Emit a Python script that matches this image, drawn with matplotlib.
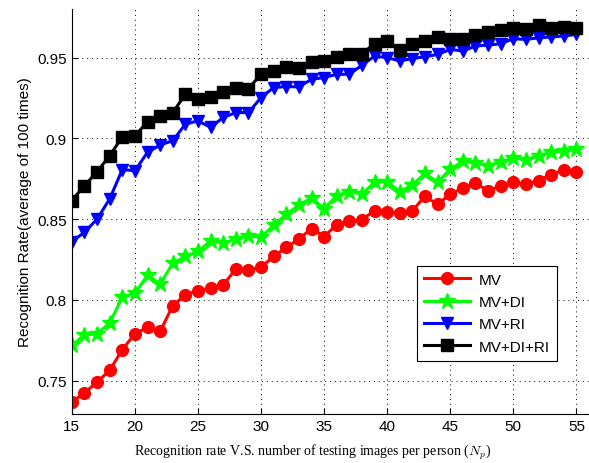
import matplotlib
matplotlib.use("Agg")
import matplotlib.pyplot as plt

N_P = list(range(15, 56))

MV = [0.7368, 0.7424, 0.7492, 0.7564, 0.7693, 0.7790, 0.7831, 0.7805, 0.7965, 0.8031,
      0.8058, 0.8072, 0.8093, 0.8191, 0.8185, 0.8202, 0.8270, 0.8325, 0.8377, 0.8442,
      0.8392, 0.8467, 0.8486, 0.8498, 0.8553, 0.8547, 0.8539, 0.8553, 0.8642, 0.8591,
      0.8656, 0.8691, 0.8722, 0.8677, 0.8704, 0.8728, 0.8718, 0.8739, 0.8776, 0.8805,
      0.8790]
MV_DI = [0.7718, 0.7784, 0.7790, 0.7858, 0.8016, 0.8041, 0.8154, 0.8099, 0.8226, 0.8270,
         0.8300, 0.8366, 0.8352, 0.8377, 0.8397, 0.8387, 0.8463, 0.8531, 0.8586, 0.8633,
         0.8564, 0.8646, 0.8671, 0.8656, 0.8728, 0.8733, 0.8671, 0.8712, 0.8784, 0.8728,
         0.8811, 0.8858, 0.8848, 0.8831, 0.8856, 0.8877, 0.8868, 0.8893, 0.8914, 0.8920,
         0.8934]
MV_RI = [0.8360, 0.8420, 0.8500, 0.8626, 0.8807, 0.8800, 0.8914, 0.8959, 0.8986, 0.9088,
         0.9109, 0.9068, 0.9130, 0.9160, 0.9160, 0.9253, 0.9315, 0.9321, 0.9319, 0.9366,
         0.9377, 0.9397, 0.9397, 0.9453, 0.9510, 0.9500, 0.9480, 0.9494, 0.9506, 0.9520,
         0.9551, 0.9541, 0.9572, 0.9578, 0.9586, 0.9617, 0.9613, 0.9623, 0.9628, 0.9634,
         0.9644]
MV_DI_RI = [0.8615, 0.8708, 0.8794, 0.8893, 0.9010, 0.9016, 0.9103, 0.9136, 0.9160, 0.9274,
            0.9243, 0.9259, 0.9290, 0.9311, 0.9309, 0.9397, 0.9418, 0.9442, 0.9438, 0.9475,
            0.9482, 0.9506, 0.9520, 0.9525, 0.9586, 0.9603, 0.9545, 0.9582, 0.9603, 0.9630,
            0.9617, 0.9617, 0.9640, 0.9658, 0.9671, 0.9685, 0.9679, 0.9700, 0.9685, 0.9691,
            0.9685]

X_TICKS = [15, 20, 25, 30, 35, 40, 45, 50, 55]
Y_TICKS = [0.75, 0.8, 0.85, 0.9, 0.95]
Y_TICK_LABELS = ["0.75", "0.8", "0.85", "0.9", "0.95"]

plt.rcParams['font.family'] = ['Liberation Sans', 'DejaVu Sans']
plt.rcParams['mathtext.fontset'] = 'cm'

fig = plt.figure(figsize=(5.89, 4.64), dpi=100)
ax = fig.add_axes([0.122, 0.106, 0.878, 0.872])

ax.plot(N_P, MV, color='#ff0000', lw=2.2, marker='o', ms=8.5, label='MV')
ax.plot(N_P, MV_DI, color='#00ff00', lw=2.2, marker='*', ms=12, label='MV+DI')
ax.plot(N_P, MV_RI, color='#0000ff', lw=2.2, marker='v', ms=9, label='MV+RI')
ax.plot(N_P, MV_DI_RI, color='#000000', lw=2.2, marker='s', ms=8, label='MV+DI+RI')

ax.set_xlim(15, 56)
ax.set_ylim(0.7295, 0.98)
ax.set_xticks(X_TICKS)
ax.set_yticks(Y_TICKS)
ax.set_yticklabels(Y_TICK_LABELS)
ax.tick_params(direction='in', labelsize=11, length=4, width=0.8)
ax.grid(True, linestyle=(0, (1, 4)), color='black', lw=0.7)
ax.spines['top'].set_visible(False)
ax.spines['right'].set_visible(False)

ax.set_ylabel("Recognition Rate(average of 100 times)", fontsize=11)
ax.set_xlabel("Recognition rate V.S. number of testing images per person ($N_p$)",
              fontsize=10, family='Liberation Serif')
ax.xaxis.set_label_coords(0.466, -0.07)

leg = ax.legend(loc='upper left', bbox_to_anchor=(0.667, 0.366), borderaxespad=0,
                fontsize=11, fancybox=False, edgecolor='black', framealpha=1,
                handlelength=3, borderpad=0.45, labelspacing=0.55, handletextpad=0.6)
leg.get_frame().set_linewidth(0.8)

fig.savefig("out.png", dpi=100)
